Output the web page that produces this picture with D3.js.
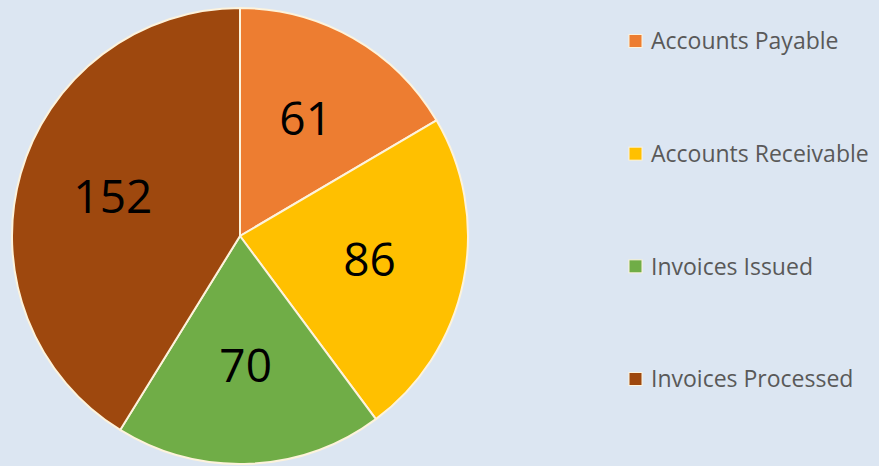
<!DOCTYPE html>
<html>
<head>
<meta charset="utf-8">
<script src="https://cdn.jsdelivr.net/npm/d3@7"></script>
<style>
  html, body { margin: 0; padding: 0; background: #dce6f2; }
  svg { display: block; }
</style>
</head>
<body>
<div id="chart"></div>
<script>
const categories = ["Accounts Payable", "Accounts Receivable", "Invoices Issued", "Invoices Processed"];
const values = [61, 86, 70, 152];
const colors = ["#ED7D31", "#FFC000", "#70AD47", "#9E480E"];

const WIDTH = 879, HEIGHT = 466;
const cx = 240, cy = 236, radius = 228;

let svg = d3.select("#chart").append("svg")
    .attr("width", WIDTH)
    .attr("height", HEIGHT);

svg.append("rect")
    .attr("width", WIDTH)
    .attr("height", HEIGHT)
    .attr("fill", "#dce6f2");

let data = categories.map(function (c, i) { return {name: c, value: values[i], color: colors[i]}; });

let pie = d3.pie().sort(null).value(function (d) { return d.value; });
let arc = d3.arc().innerRadius(0).outerRadius(radius);
let labelArc = d3.arc().innerRadius(radius * 0.58).outerRadius(radius * 0.58);

let g = svg.append("g").attr("transform", "translate(" + cx + "," + cy + ")");

let slices = g.selectAll(".slice")
    .data(pie(data))
    .enter().append("g")
    .attr("class", "slice");

slices.append("path")
    .attr("d", arc)
    .attr("fill", function (d) { return d.data.color; })
    .attr("stroke", "#fdf3dc")
    .attr("stroke-width", 2);

// labels sit slightly above the centroid
slices.append("text")
    .attr("transform", function (d) {
        let c = labelArc.centroid(d);
        return "translate(" + c[0] + "," + (c[1] - 3) + ")";
    })
    .attr("text-anchor", "middle")
    .attr("dy", "0.36em")
    .attr("font-family", "'Open Sans', sans-serif")
    .attr("font-size", 46)
    .attr("fill", "#000")
    .text(function (d) { return d.data.value; });

// legend
let legendY = d3.scalePoint().domain(categories).range([41, 379]);

let legend = svg.selectAll(".legend")
    .data(data)
    .enter().append("g")
    .attr("class", "legend")
    .attr("transform", function (d) { return "translate(629," + legendY(d.name) + ")"; });

legend.append("rect")
    .attr("x", 0)
    .attr("y", -6.5)
    .attr("width", 13)
    .attr("height", 13)
    .attr("fill", function (d) { return d.color; })
    .attr("stroke", "#fdf3dc")
    .attr("stroke-width", 1);

legend.append("text")
    .attr("x", 22)
    .attr("y", 0)
    .attr("dy", "0.36em")
    .attr("font-family", "'Open Sans', sans-serif")
    .attr("font-size", 23)
    .attr("fill", "#595959")
    .text(function (d) { return d.name; });
</script>
</body>
</html>
